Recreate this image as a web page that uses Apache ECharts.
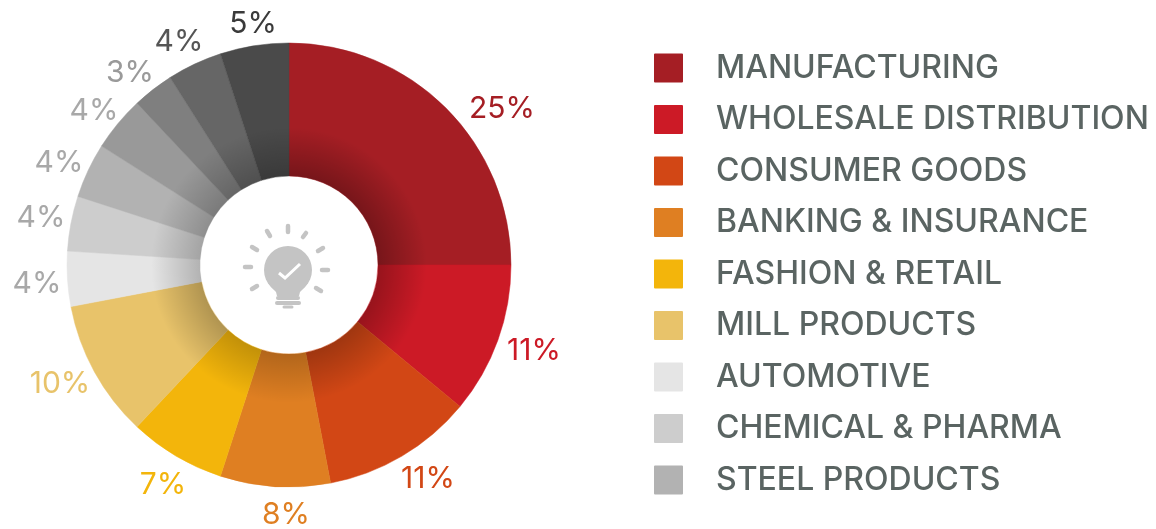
<!DOCTYPE html>
<html>
<head>
<meta charset="utf-8">
<style>html,body{margin:0;padding:0;background:#fff}#c{width:1156px;height:529px}</style>
<script src="https://cdn.jsdelivr.net/npm/echarts@6/dist/echarts.min.js"></script>
</head>
<body>
<div id="c"></div>
<script>
const categories = ['MANUFACTURING','WHOLESALE DISTRIBUTION','CONSUMER GOODS','BANKING & INSURANCE','FASHION & RETAIL','MILL PRODUCTS','AUTOMOTIVE','CHEMICAL & PHARMA','STEEL PRODUCTS','Sector 10','Sector 11','Sector 12','Sector 13'];
const legendNames = categories.slice(0, 9);
const values = [25,11,11,8,7,10,4,4,4,4,3,4,5];
const colors = ['#a51e24','#cc1a26','#d24715','#df7f22','#f3b50b','#e8c36a','#e5e5e5','#cdcdcd','#b2b2b2','#999999','#7f7f7f','#666666','#4a4a4a'];
const labelColors = ['#a51e24','#cc1a26','#d24715','#df7f22','#f3b50b','#e8c36a','#a8a8a8','#a8a8a8','#a8a8a8','#a8a8a8','#9a9a9a','#555555','#3a3a3a'];
const shade = [.28,.26,.24,.20,.20,.24,.22,.20,.20,.20,.20,.22,.22];
const labelAt = [[502,109],[534,351],[428,479],[286,515],[163,485],[60,384],[37,284],[41,218],[59,163],[94,111],[130,73],[179,42],[253,24]];

const CX = 289, CY = 265;
const FONT = 'Inter';
const bulb = '#c4c4c4';
const rays = [[288,226,288,232],[267,231,270,236],[252,247,257,250],[245,267,251,267],[252,289,257,286],[306,233,303,237],[323,248,318,251],[328,270,322,270],[321,291,316,288]];

const chart = echarts.init(document.getElementById('c'), null, {renderer:'canvas'});
chart.setOption({
  animation:false,
  backgroundColor:'#fff',
  legend:{
    orient:'vertical', left:654, top:52, padding:0, itemWidth:27, itemHeight:27, itemGap:19.5,
    icon:'rect', data:legendNames, selectedMode:false,
    textStyle:{color:'#5a6462', fontFamily:FONT, fontSize:32, fontWeight:500, lineHeight:27, padding:[0,0,0,29]}
  },
  series:[
    {
      type:'pie', center:[CX,CY], radius:[89,222], startAngle:90, silent:true, avoidLabelOverlap:false,
      data:categories.map((name,i)=>({name, value:values[i], itemStyle:{color:colors[i], borderColor:colors[i], borderWidth:0.5},
        label:{color:labelColors[i]}})),
      label:{show:true, position:'outside', formatter:'{c}%', fontFamily:FONT, fontSize:30, fontWeight:400},
      labelLine:{show:false},
      labelLayout:p=>({x:labelAt[p.dataIndex][0], y:labelAt[p.dataIndex][1], align:'center', verticalAlign:'middle'})
    },
    {
      type:'pie', center:[CX,CY], radius:[89,138], startAngle:90, silent:true, z:3,
      label:{show:false}, labelLine:{show:false},
      data:categories.map((name,i)=>({name:name+' shade', value:values[i], itemStyle:{color:{
        type:'radial', x:CX, y:CY, r:138, global:true,
        colorStops:[{offset:0,color:`rgba(0,0,0,${shade[i]})`},{offset:.645,color:`rgba(0,0,0,${shade[i]})`},{offset:1,color:'rgba(0,0,0,0)'}]
      }}}))
    }
  ],
  graphic:[
    ...rays.map(r=>({type:'line', z:10, silent:true, shape:{x1:r[0],y1:r[1],x2:r[2],y2:r[3]}, style:{stroke:bulb,lineWidth:4.5,lineCap:'round'}})),
    {type:'circle', z:10, silent:true, shape:{cx:288,cy:270,r:24}, style:{fill:bulb}},
    {type:'polygon', z:10, silent:true, shape:{points:[[268,283],[272,288],[276,292],[277,296],[299,296],[300,292],[304,288],[308,283]]}, style:{fill:bulb}},
    {type:'line', z:10, silent:true, shape:{x1:278,y1:298,x2:298,y2:298}, style:{stroke:bulb,lineWidth:4,lineCap:'round'}},
    {type:'line', z:10, silent:true, shape:{x1:277,y1:303,x2:299,y2:303}, style:{stroke:bulb,lineWidth:4,lineCap:'round'}},
    {type:'line', z:10, silent:true, shape:{x1:284,y1:307,x2:292,y2:307}, style:{stroke:bulb,lineWidth:3,lineCap:'round'}},
    {type:'polyline', z:11, silent:true, shape:{points:[[279,273],[285,278],[300,264]]}, style:{stroke:'#fff',fill:null,lineWidth:3}}
  ]
});
</script>
</body>
</html>
